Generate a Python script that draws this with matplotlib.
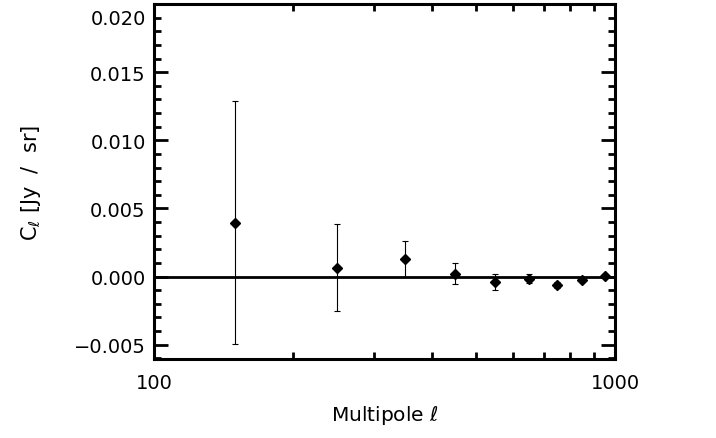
import matplotlib
matplotlib.use("Agg")
import matplotlib.pyplot as plt
from matplotlib.ticker import FixedLocator, MultipleLocator, NullFormatter
import matplotlib.transforms as mtransforms

# Multipole bins and measured C_l with 1-sigma errors
ell = [150, 250, 350, 450, 550, 650, 750, 850, 950]
cl = [0.00395, 0.00066, 0.00132, 0.00022, -0.00040, -0.00015, -0.00061, -0.00025, 0.00007]
cl_err = [0.00890, 0.00320, 0.00132, 0.00080, 0.00060, 0.00034, 0.00020, 0.00015, 0.00015]

plt.rcParams["font.family"] = ["DejaVu Sans"]
plt.rcParams["mathtext.fontset"] = "dejavusans"

fig = plt.figure(figsize=(7.16, 4.39), dpi=100)
ax = fig.add_axes([154 / 716, 1 - 360 / 439, 461 / 716, 355 / 439])

ax.axhline(0.0, color="black", lw=2.0, zorder=1)
ax.errorbar(ell, cl, yerr=cl_err, fmt="D", color="black", ms=5.5,
            elinewidth=0.8, capsize=2.2, capthick=0.8, zorder=3)

ax.set_xscale("log")
ax.set_xlim(100, 1000)
ax.set_ylim(-0.00605, 0.0200)

ax.xaxis.set_major_locator(FixedLocator([100, 1000]))
ax.set_xticklabels(["100", "1000"])
ax.xaxis.set_minor_locator(FixedLocator([200, 300, 400, 500, 600, 700, 800, 900]))
ax.xaxis.set_minor_formatter(NullFormatter())
ax.yaxis.set_minor_locator(MultipleLocator(0.001))
ax.set_yticks([-0.005, 0.0, 0.005, 0.010, 0.015, 0.020])
ax.set_yticklabels(["\u22120.005", "0.000", "0.005", "0.010", "0.015", "0.020"])

ax.tick_params(which="both", direction="in", top=True, right=True,
               width=2, labelsize=14)
ax.tick_params(which="major", axis="y", length=10, pad=6)
ax.tick_params(which="major", axis="x", length=0, pad=10)
ax.tick_params(which="minor", length=5)
for s in ax.spines.values():
    s.set_linewidth(2.2)

# top label sits a bit below the frame edge, as in the original
top_lbl = ax.get_yticklabels()[-1]
top_lbl.set_transform(top_lbl.get_transform() +
                      mtransforms.ScaledTranslation(0, -9 / 72, fig.dpi_scale_trans))

ax.set_xlabel(r"Multipole $\ell$", fontsize=14.5, labelpad=8)
ax.set_ylabel(r"C$_\ell$ [Jy  /  sr]", fontsize=15, labelpad=22)

fig.savefig("out.png", dpi=100)
